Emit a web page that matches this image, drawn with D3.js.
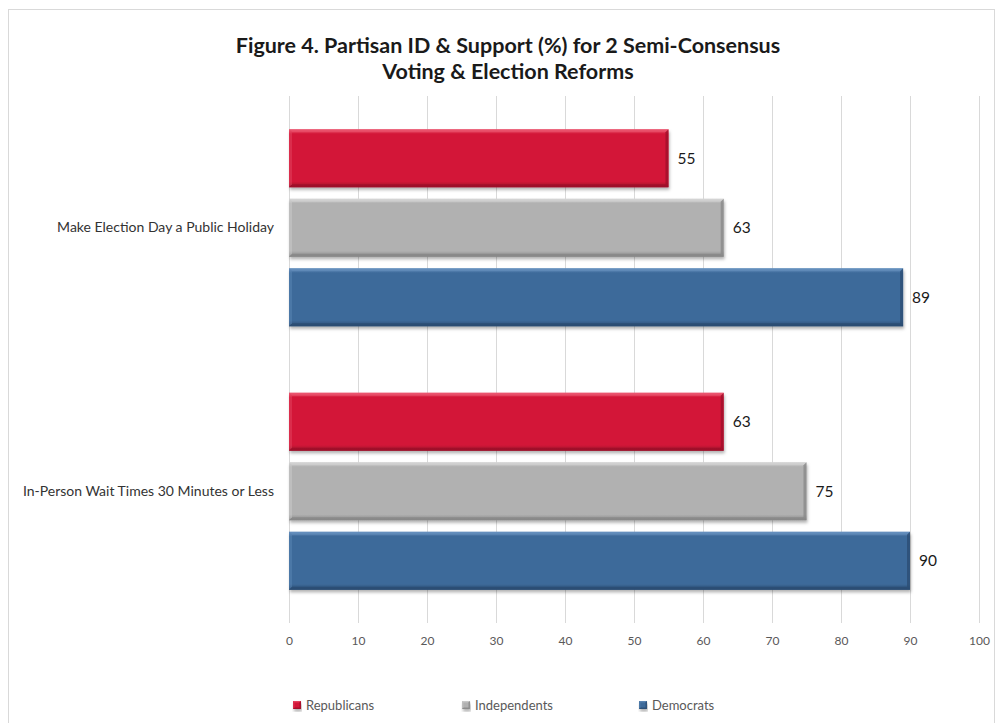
<!DOCTYPE html>
<html>
<head>
<meta charset="utf-8">
<script src="https://cdn.jsdelivr.net/npm/d3@7"></script>
<style>
  html, body { margin: 0; padding: 0; background: #fff; }
  svg { display: block; font-family: Lato, "Open Sans", sans-serif; }
</style>
</head>
<body>
<svg id="chart" width="995" height="723"></svg>
<script>
// Survey results: share (%) of each partisan group supporting each reform
const categories = [
  "Make Election Day a Public Holiday",
  "In-Person Wait Times 30 Minutes or Less"
];
const seriesNames = ["Republicans", "Independents", "Democrats"];
const republicans = [55, 63];
const independents = [63, 75];
const democrats = [89, 90];
const xTicks = [0, 10, 20, 30, 40, 50, 60, 70, 80, 90, 100];
const titleLines = [
  "Figure 4. Partisan ID & Support (%) for 2 Semi-Consensus",
  "Voting & Election Reforms"
];

const seriesValues = [republicans, independents, democrats];
const seriesColors = {
  Republicans:  { base: "#d31638", light: "#ec5a72", dark: "#9c0f29" },
  Independents: { base: "#b1b1b1", light: "#d6d6d6", dark: "#878787" },
  Democrats:    { base: "#3e6a9a", light: "#6891c0", dark: "#2b4c72" }
};

const svg = d3.select("#chart");
const plot = { left: 289, right: 979, top: 96, bottom: 623 };

// chart frame
svg.append("rect")
  .attr("x", 8.5).attr("y", 9.5)
  .attr("width", 986).attr("height", 730)
  .attr("fill", "#fff").attr("stroke", "#d9d9d9").attr("stroke-width", 1);

const defs = svg.append("defs");
const shadow = defs.append("filter").attr("id", "barShadow")
  .attr("x", "-5%").attr("y", "-20%").attr("width", "110%").attr("height", "150%");
shadow.append("feDropShadow")
  .attr("dx", 1).attr("dy", 2.5).attr("stdDeviation", 1.6)
  .attr("flood-color", "#000").attr("flood-opacity", 0.3);

seriesNames.forEach((name, i) => {
  const c = seriesColors[name];
  const g = defs.append("linearGradient").attr("id", "grad" + i)
    .attr("x1", 0).attr("y1", 0).attr("x2", 0).attr("y2", 1);
  g.append("stop").attr("offset", "0%").attr("stop-color", c.light);
  g.append("stop").attr("offset", "8%").attr("stop-color", c.base);
  g.append("stop").attr("offset", "90%").attr("stop-color", c.base);
  g.append("stop").attr("offset", "100%").attr("stop-color", c.dark);
});

// scales
const x = d3.scaleLinear().domain([0, 100]).range([plot.left, plot.right]);
const y = d3.scaleBand().domain(categories).range([plot.top, plot.bottom])
  .paddingInner(0.252).paddingOuter(0.126);
const ySub = d3.scaleBand().domain(seriesNames).range([0, y.bandwidth()])
  .paddingInner(0.165).paddingOuter(0);

// vertical gridlines
svg.append("g").selectAll("line").data(xTicks).join("line")
  .attr("x1", d => Math.round(x(d)) + 0.5).attr("x2", d => Math.round(x(d)) + 0.5)
  .attr("y1", plot.top).attr("y2", plot.bottom)
  .attr("stroke", "#d9d9d9").attr("stroke-width", 1);

// x axis tick labels
const xAxis = d3.axisBottom(x).tickValues(xTicks).tickSize(0).tickPadding(0);
const xg = svg.append("g").attr("transform", `translate(0,${plot.bottom + 13})`).call(xAxis);
xg.select(".domain").remove();
xg.selectAll("text")
  .attr("font-family", "Lato, 'Open Sans', sans-serif")
  .attr("font-size", 12).attr("fill", "#595959");

// category labels
const yAxis = d3.axisLeft(y).tickSize(0).tickPadding(15);
const yg = svg.append("g").attr("transform", `translate(${plot.left},0)`).call(yAxis);
yg.select(".domain").remove();
yg.selectAll("text")
  .attr("font-family", "Lato, 'Open Sans', sans-serif")
  .attr("font-size", 14).attr("fill", "#333");

// bevelled bar drawing
function bevelBar(g, x0, y0, x1, y1, c, gi, b) {
  g.append("rect").attr("x", x0).attr("y", y0)
    .attr("width", x1 - x0).attr("height", y1 - y0)
    .attr("fill", `url(#grad${gi})`).attr("filter", "url(#barShadow)");
  g.append("path")
    .attr("d", `M${x0},${y0}L${x1},${y0}L${x1 - b},${y0 + b}L${x0 + b},${y0 + b}Z`)
    .attr("fill", c.light).attr("opacity", 0.55);
  g.append("path")
    .attr("d", `M${x0},${y1}L${x1},${y1}L${x1 - b},${y1 - b}L${x0 + b},${y1 - b}Z`)
    .attr("fill", c.dark).attr("opacity", 0.8);
  g.append("path")
    .attr("d", `M${x1},${y0}L${x1},${y1}L${x1 - b},${y1 - b}L${x1 - b},${y0 + b}Z`)
    .attr("fill", c.dark).attr("opacity", 0.75);
  g.append("path")
    .attr("d", `M${x0},${y0}L${x0},${y1}L${x0 + b},${y1 - b}L${x0 + b},${y0 + b}Z`)
    .attr("fill", c.light).attr("opacity", 0.35);
}

const barsG = svg.append("g");
categories.forEach((cat, ci) => {
  seriesNames.forEach((name, si) => {
    const v = seriesValues[si][ci];
    const y0 = y(cat) + ySub(name);
    const y1 = y0 + ySub.bandwidth();
    const x0 = x(0), x1 = x(v);
    bevelBar(barsG.append("g"), x0, y0, x1, y1, seriesColors[name], si, 3);
    svg.append("text")
      .attr("x", x1 + 9).attr("y", (y0 + y1) / 2)
      .attr("dy", "0.35em")
      .attr("font-size", 15.5).attr("fill", "#1a1a1a")
      .text(v);
  });
});

// title
svg.append("g").selectAll("text").data(titleLines).join("text")
  .attr("x", 508).attr("y", (d, i) => 53 + i * 26)
  .attr("text-anchor", "middle")
  .attr("font-size", 21.5).attr("font-weight", "bold").attr("fill", "#1a1a1a")
  .text(d => d);

// legend
const legendX = [293, 462, 639];
const legend = svg.append("g");
seriesNames.forEach((name, i) => {
  const lg = legend.append("g");
  bevelBar(lg, legendX[i], 701, legendX[i] + 8, 709, seriesColors[name], i, 1.5);
  lg.append("text")
    .attr("x", legendX[i] + 13).attr("y", 705).attr("dy", "0.35em")
    .attr("font-size", 13).attr("fill", "#595959")
    .text(name);
});
</script>
</body>
</html>
